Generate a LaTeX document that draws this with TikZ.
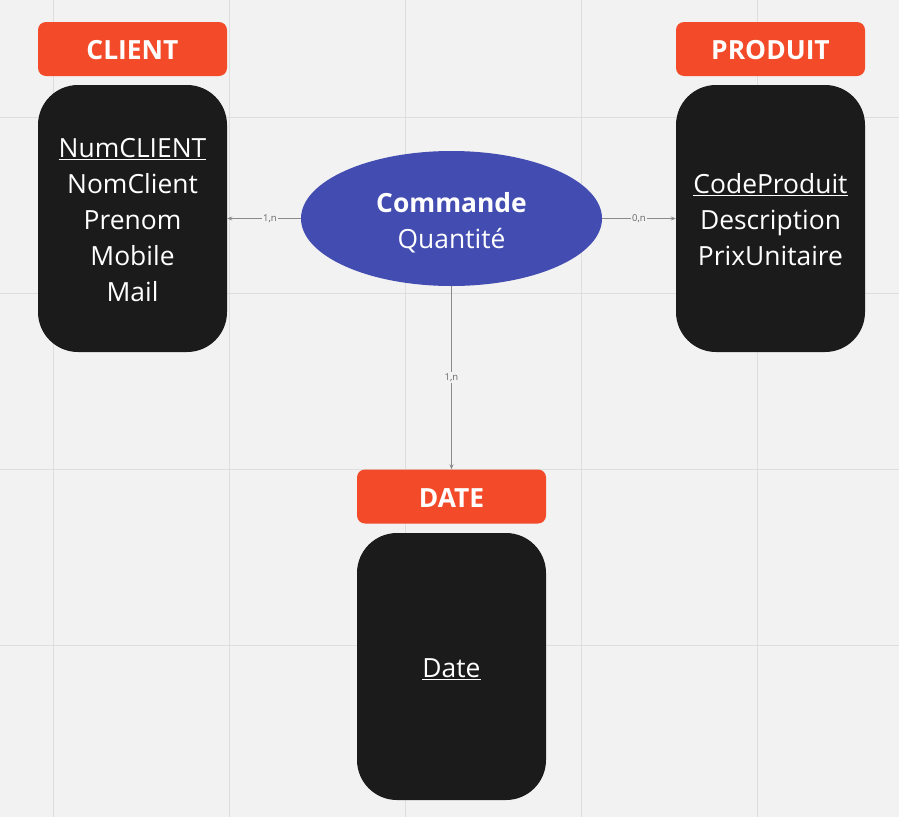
\documentclass[tikz,border=0pt]{standalone}
\usepackage{fontspec}
\setmainfont{Open Sans}
\usetikzlibrary{shapes.geometric,arrows.meta}
\definecolor{bgc}{HTML}{F2F2F2}
\definecolor{gridc}{HTML}{DEDEDE}
\definecolor{hdrc}{HTML}{F34B2A}
\definecolor{bodyc}{HTML}{1B1B1B}
\definecolor{ellc}{HTML}{424CB1}
\definecolor{linec}{HTML}{8A8A8A}
\definecolor{lblc}{HTML}{666666}
\newcommand{\celllines}[2]{\raisebox{#1}[\height][\depth]{\begin{tabular}{@{}c@{}}#2\end{tabular}}}
\newcommand{\hdrtext}[1]{\raisebox{-1.5pt}[\height][\depth]{#1}}
\tikzset{
  hdrbox/.style={rectangle, rounded corners=8pt, fill=hdrc, text=white,
    minimum width=189pt, minimum height=54pt, inner sep=0pt,
    font=\fontsize{26.4}{30}\selectfont\bfseries},
  bodybox/.style={rectangle, rounded corners=40pt, fill=bodyc, text=white,
    minimum width=189pt, minimum height=267pt, inner sep=0pt,
    font=\fontsize{26.4}{36}\selectfont},
  entity/.style={ellipse, fill=ellc, text=white, minimum width=301pt,
    minimum height=135pt, inner sep=0pt,
    font=\fontsize{26.4}{36}\selectfont},
  conn/.style={draw=linec, line width=0.8pt, -{Stealth[length=5pt,width=4pt]}},
  lbl/.style={fill=bgc, text=lblc, inner sep=1.5pt, font=\fontsize{9.5}{10}\selectfont},
  gridline/.style={draw=gridc, line width=1pt}
}
\begin{document}
\begin{tikzpicture}[x=1pt,y=-1pt]
\fill[bgc] (0,0) rectangle (899,817);
\useasboundingbox (0,0) rectangle (899,817);
\foreach \gx in {53,229,405,581,757} \draw[gridline] (\gx,0) -- (\gx,817);
\foreach \gy in {117,293,469,645} \draw[gridline] (0,\gy) -- (899,\gy);

\node[hdrbox] (chead) at (132.5,49) {\hdrtext{CLIENT}};
\node[bodybox] (cbody) at (132.5,218.5) {\celllines{-4pt}{\underline{NumCLIENT}\\NomClient\\Prenom\\Mobile\\Mail}};

\node[hdrbox] (phead) at (770.5,49) {\hdrtext{PRODUIT}};
\node[bodybox] (pbody) at (770.5,218.5) {\celllines{-4pt}{\underline{CodeProduit}\\Description\\PrixUnitaire}};

\node[hdrbox] (dhead) at (451.5,496.5) {\hdrtext{DATE}};
\node[bodybox] (dbody) at (451.5,666.5) {\celllines{-4pt}{\underline{Date}}};

\node[entity] (comm) at (451.5,218.5) {\celllines{-4.5pt}{\textbf{Commande}\\Quantité}};

\draw[conn] (comm.west) -- node[lbl, pos=0.42] {1,n} (comm.west -| cbody.east);
\draw[conn] (comm.east) -- node[lbl, pos=0.5] {0,n} (comm.east -| pbody.west);
\draw[conn] (comm.south) -- node[lbl, pos=0.5] {1,n} (dhead.north);
\end{tikzpicture}
\end{document}
